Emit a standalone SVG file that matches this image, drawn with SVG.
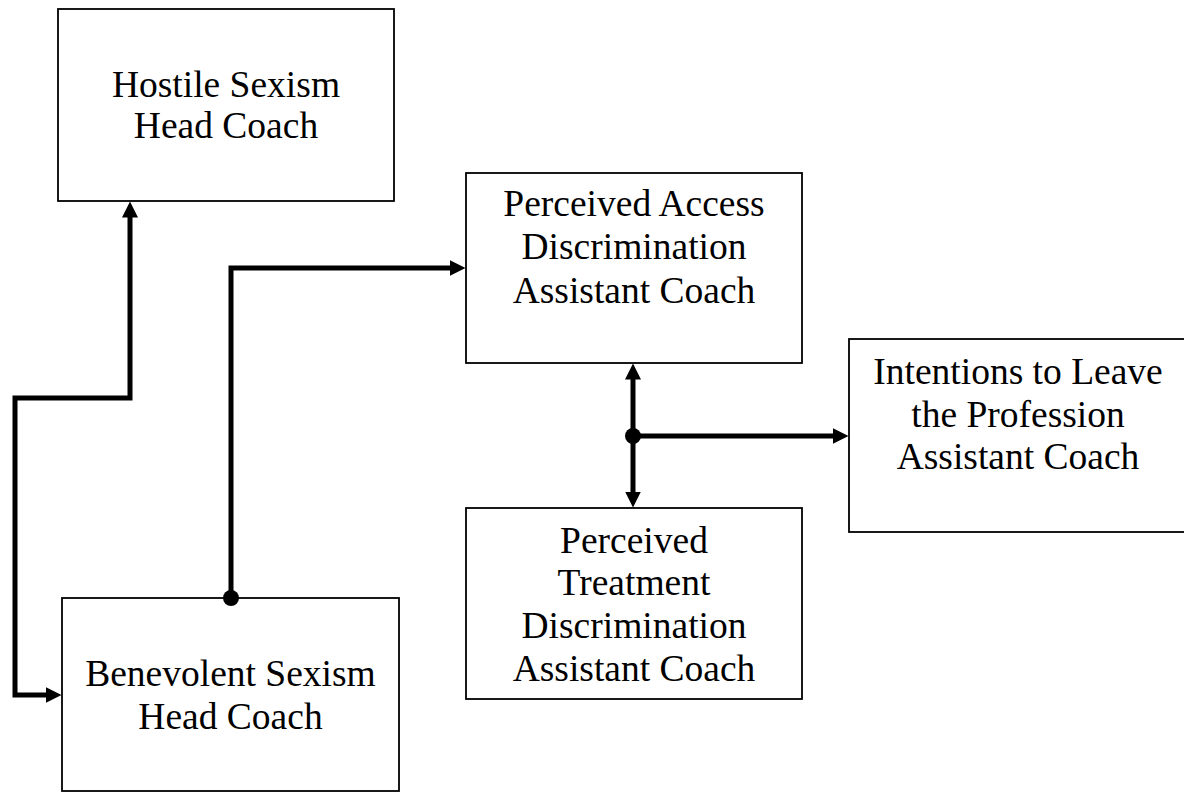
<svg xmlns="http://www.w3.org/2000/svg" width="1184" height="792" viewBox="0 0 1184 792">
<style>
.box{fill:#fff;stroke:#000;stroke-width:1.8}
.t{font-family:"Liberation Serif","Times New Roman",serif;font-size:37.5px;fill:#000;text-anchor:middle}
.c{fill:none;stroke:#000;stroke-width:5;stroke-linejoin:miter}
</style>
<defs>
<marker id="ah" markerUnits="userSpaceOnUse" markerWidth="18" markerHeight="18" viewBox="0 -9 18 18" refX="0.5" refY="0" orient="auto-start-reverse">
<path d="M0,-8 L16,0 L0,8 Z" fill="#000"/>
</marker>
</defs>
<rect width="1184" height="792" fill="#fff"/>
<g id="hostile">
<rect class="box" x="58" y="9" width="336" height="192"/>
<text class="t" x="226" y="97">Hostile Sexism</text>
<text class="t" x="226" y="138">Head Coach</text>
</g>
<g id="benevolent">
<rect class="box" x="62" y="598" width="337" height="193"/>
<text class="t" x="230.5" y="686">Benevolent Sexism</text>
<text class="t" x="230.5" y="729">Head Coach</text>
</g>
<g id="access">
<rect class="box" x="466" y="173" width="336" height="190"/>
<text class="t" x="634" y="216">Perceived Access</text>
<text class="t" x="634" y="259">Discrimination</text>
<text class="t" x="634" y="303">Assistant Coach</text>
</g>
<g id="treatment">
<rect class="box" x="466" y="508" width="336" height="191"/>
<text class="t" x="634" y="553">Perceived</text>
<text class="t" x="634" y="595">Treatment</text>
<text class="t" x="634" y="638">Discrimination</text>
<text class="t" x="634" y="681">Assistant Coach</text>
</g>
<g id="intentions">
<rect class="box" x="849" y="339" width="338" height="193"/>
<text class="t" x="1018" y="384">Intentions to Leave</text>
<text class="t" x="1018" y="427">the Profession</text>
<text class="t" x="1018" y="469">Assistant Coach</text>
</g>
<g id="connectors">
<path class="c" d="M46,695 H15 V398 H130 V217" marker-start="url(#ah)" marker-end="url(#ah)"/>
<path class="c" d="M231,598 V268 H450" marker-end="url(#ah)"/>
<circle cx="231" cy="598" r="8" fill="#000"/>
<path class="c" d="M633,379 V492" marker-start="url(#ah)" marker-end="url(#ah)"/>
<path class="c" d="M633,436 H833" marker-end="url(#ah)"/>
<circle cx="633" cy="436" r="8" fill="#000"/>
</g>
</svg>
